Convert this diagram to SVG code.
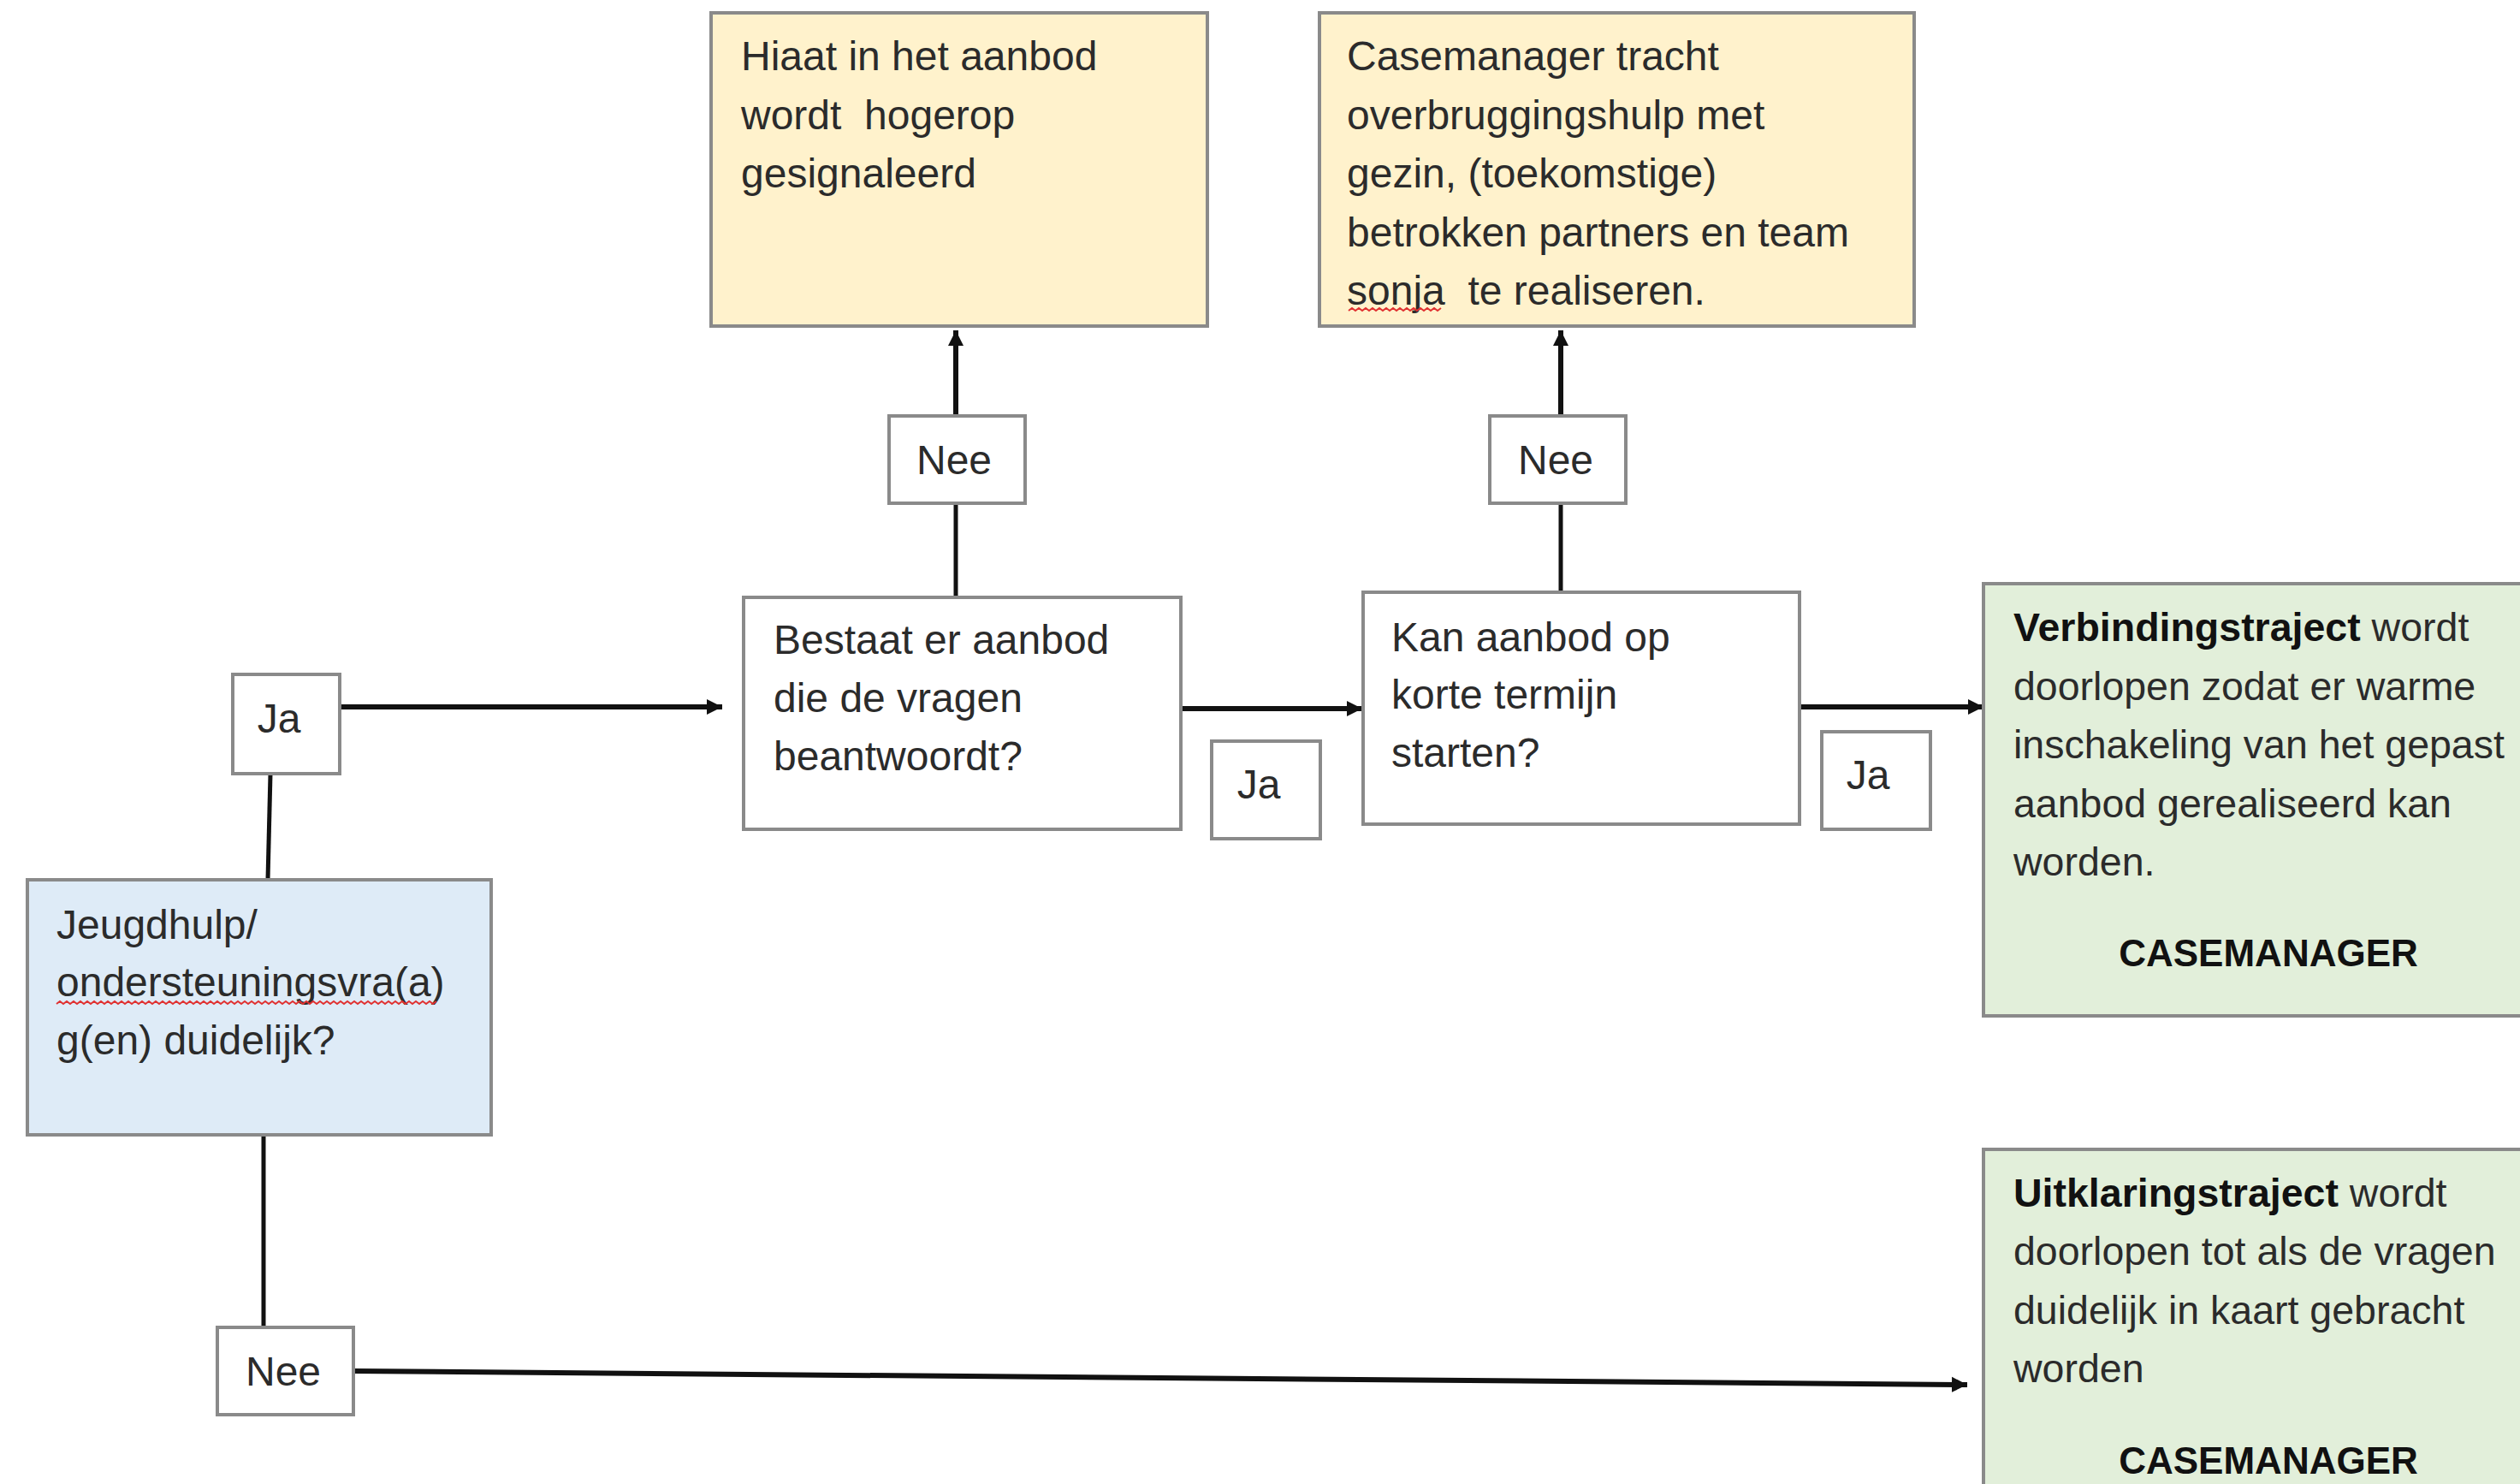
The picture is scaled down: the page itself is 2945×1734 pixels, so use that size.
<svg xmlns="http://www.w3.org/2000/svg" width="2945" height="1734" viewBox="0 0 2945 1734">
<defs>
<style>
.box{stroke:#8a8a8a;stroke-width:4}
.w{fill:#ffffff}
.y{fill:#fff2cc}
.g{fill:#e2efda}
.b{fill:#deebf7}
.t{font-family:"Liberation Sans",Arial,sans-serif;font-size:48px;fill:#2b2b2b;white-space:pre}
.s{font-size:46.5px}
.c{text-anchor:middle}
.bold{font-weight:bold;fill:#111}
.cm{font-size:44px}
.ln{stroke:#111;stroke-width:5;fill:none}
.ar{stroke:#111;stroke-width:6;fill:none;marker-end:url(#ah)}
.sp{stroke:#e03030;stroke-width:2;fill:none}
</style>
<marker id="ah" markerUnits="userSpaceOnUse" markerWidth="20" markerHeight="20" refX="18" refY="9" orient="auto" viewBox="0 0 20 18">
<path d="M0,0 L18,9 L0,18 Z" fill="#111"/>
</marker>
</defs>
<rect width="2945" height="1734" fill="#ffffff"/>

<g id="connectors">
<line class="ar" x1="1117" y1="588" x2="1117" y2="386"/>
<line class="ln" x1="1117" y1="698" x2="1117" y2="588"/>
<line class="ar" x1="1824" y1="588" x2="1824" y2="386"/>
<line class="ln" x1="1824" y1="692" x2="1824" y2="588"/>
<line class="ar" x1="397" y1="826" x2="844" y2="826"/>
<line class="ar" x1="1380" y1="828" x2="1592" y2="828"/>
<line class="ar" x1="2103" y1="826" x2="2318" y2="826"/>
<line class="ln" x1="316" y1="904" x2="313" y2="1028"/>
<line class="ln" x1="308" y1="1326" x2="308" y2="1551"/>
<line class="ar" x1="413" y1="1602" x2="2299" y2="1618"/>
</g>

<g id="hiaat">
<rect class="box y" x="831" y="15" width="580" height="366"/>
<text class="t" x="866" y="82">Hiaat in het aanbod</text>
<text class="t" x="866" y="151">wordt  hogerop</text>
<text class="t" x="866" y="219">gesignaleerd</text>
</g>

<g id="overbrugging">
<rect class="box y" x="1542" y="15" width="695" height="366"/>
<text class="t" x="1574" y="82">Casemanager tracht</text>
<text class="t" x="1574" y="151">overbruggingshulp met</text>
<text class="t" x="1574" y="219">gezin, (toekomstige)</text>
<text class="t" x="1574" y="288">betrokken partners en team</text>
<text class="t" x="1574" y="356">sonja  te realiseren.</text>
<path class="sp" d="M1576,363 l4,-3 l4,3 l4,-3 l4,3 l4,-3 l4,3 l4,-3 l4,3 l4,-3 l4,3 l4,-3 l4,3 l4,-3 l4,3 l4,-3 l4,3 l4,-3 l4,3 l4,-3 l4,3 l4,-3 l4,3 l4,-3 l4,3 l4,-3 l4,3 l4,-3"/>
</g>

<g id="nee1">
<rect class="box w" x="1039" y="486" width="159" height="102"/>
<text class="t c" x="1115" y="554">Nee</text>
</g>

<g id="nee2">
<rect class="box w" x="1741" y="486" width="159" height="102"/>
<text class="t c" x="1818" y="554">Nee</text>
</g>

<g id="bestaat">
<rect class="box w" x="869" y="698" width="511" height="271"/>
<text class="t" x="904" y="764">Bestaat er aanbod</text>
<text class="t" x="904" y="832">die de vragen</text>
<text class="t" x="904" y="900">beantwoordt?</text>
</g>

<g id="kan">
<rect class="box w" x="1593" y="692" width="510" height="271"/>
<text class="t" x="1626" y="761">Kan aanbod op</text>
<text class="t" x="1626" y="828">korte termijn</text>
<text class="t" x="1626" y="896">starten?</text>
</g>

<g id="ja1">
<rect class="box w" x="272" y="788" width="125" height="116"/>
<text class="t c" x="326" y="856">Ja</text>
</g>

<g id="ja2">
<rect class="box w" x="1416" y="866" width="127" height="114"/>
<text class="t c" x="1471" y="933">Ja</text>
</g>

<g id="ja3">
<rect class="box w" x="2129" y="855" width="127" height="114"/>
<text class="t c" x="2183" y="922">Ja</text>
</g>

<g id="verbinding">
<rect class="box g" x="2318" y="682" width="650" height="505"/>
<text class="t s" x="2353" y="749"><tspan class="bold">Verbindingstraject</tspan> wordt</text>
<text class="t s" x="2353" y="818">doorlopen zodat er warme</text>
<text class="t s" x="2353" y="886">inschakeling van het gepast</text>
<text class="t s" x="2353" y="955">aanbod gerealiseerd kan</text>
<text class="t s" x="2353" y="1023">worden.</text>
<text class="t c bold cm" x="2651" y="1129">CASEMANAGER</text>
</g>

<g id="jeugdhulp">
<rect class="box b" x="32" y="1028" width="542" height="298"/>
<text class="t" x="66" y="1097">Jeugdhulp/</text>
<text class="t" x="66" y="1164">ondersteuningsvra(a)</text>
<text class="t" x="66" y="1232">g(en) duidelijk?</text>
<path class="sp" d="M66,1173 l4,-3 l4,3 l4,-3 l4,3 l4,-3 l4,3 l4,-3 l4,3 l4,-3 l4,3 l4,-3 l4,3 l4,-3 l4,3 l4,-3 l4,3 l4,-3 l4,3 l4,-3 l4,3 l4,-3 l4,3 l4,-3 l4,3 l4,-3 l4,3 l4,-3 l4,3 l4,-3 l4,3 l4,-3 l4,3 l4,-3 l4,3 l4,-3 l4,3 l4,-3 l4,3 l4,-3 l4,3 l4,-3 l4,3 l4,-3 l4,3 l4,-3 l4,3 l4,-3 l4,3 l4,-3 l4,3 l4,-3 l4,3 l4,-3 l4,3 l4,-3 l4,3 l4,-3 l4,3 l4,-3 l4,3 l4,-3 l4,3 l4,-3 l4,3 l4,-3 l4,3 l4,-3 l4,3 l4,-3 l4,3 l4,-3 l4,3 l4,-3 l4,3 l4,-3 l4,3 l4,-3 l4,3 l4,-3 l4,3 l4,-3 l4,3 l4,-3 l4,3 l4,-3 l4,3 l4,-3 l4,3 l4,-3 l4,3 l4,-3 l4,3 l4,-3 l4,3 l4,-3 l4,3 l4,-3 l4,3 l4,-3 l4,3 l4,-3 l4,3 l4,-3 l4,3 l4,-3 l4,3 l4,-3 l4,3 l4,-3 l4,3 l4,-3"/>
</g>

<g id="nee3">
<rect class="box w" x="254" y="1551" width="159" height="102"/>
<text class="t c" x="331" y="1619">Nee</text>
</g>

<g id="uitklaring">
<rect class="box g" x="2318" y="1343" width="650" height="420"/>
<text class="t s" x="2353" y="1410"><tspan class="bold">Uitklaringstraject</tspan> wordt</text>
<text class="t s" x="2353" y="1478">doorlopen tot als de vragen</text>
<text class="t s" x="2353" y="1547">duidelijk in kaart gebracht</text>
<text class="t s" x="2353" y="1615">worden</text>
<text class="t c bold cm" x="2651" y="1722">CASEMANAGER</text>
</g>
</svg>
